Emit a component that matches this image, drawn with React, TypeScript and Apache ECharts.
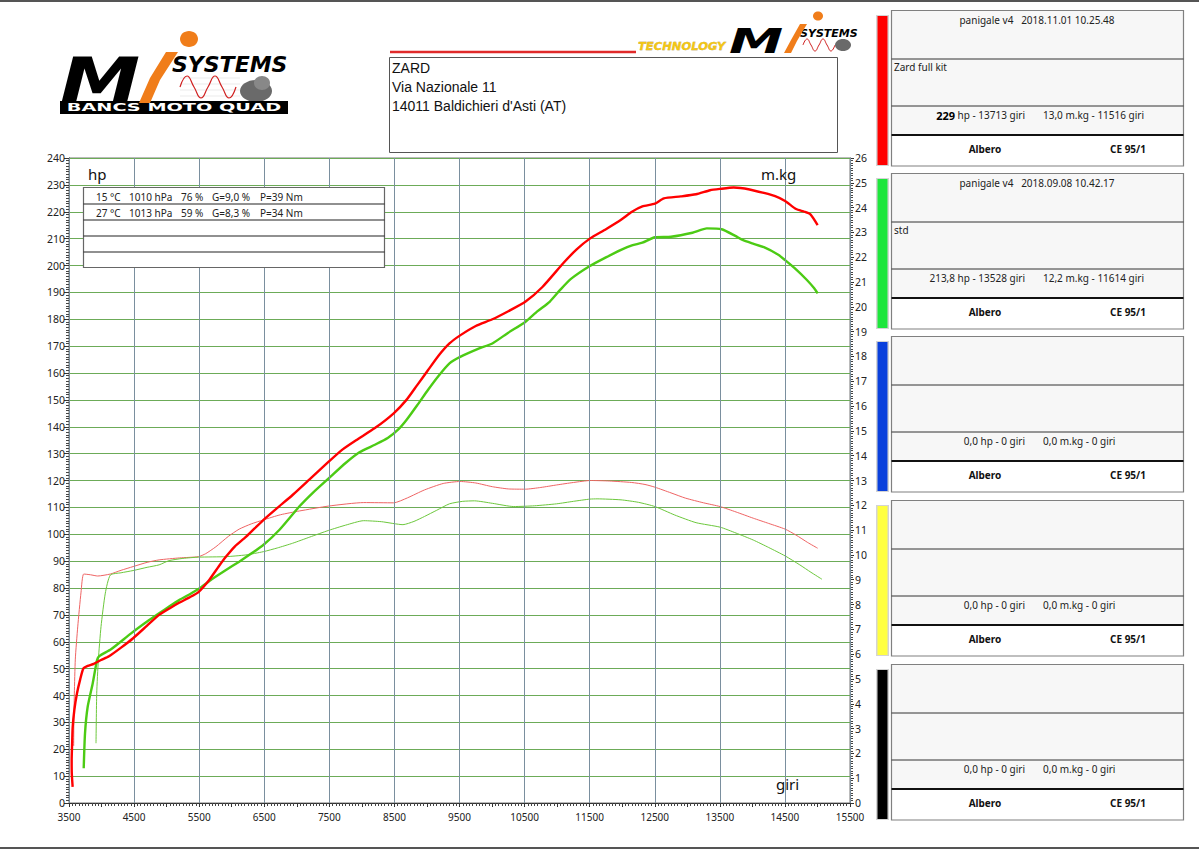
import React, { useEffect, useRef } from 'react';
import * as echarts from 'echarts';

// ---------- DATA ----------
const xLabelValues = [3500, 4500, 5500, 6500, 7500, 8500, 9500, 10500, 11500, 12500, 13500, 14500, 15500];

const redPowerHp: [number, number][] = [
  [3556, 6], [3543, 11], [3541, 16], [3548, 22], [3556, 28], [3582, 34.6], [3623, 40.8], [3672, 46], [3720, 50],
  [3787, 51], [3880, 51.8], [3992, 53.2], [4115, 54.6], [4300, 57.8], [4485, 61.3], [4700, 66], [4885, 70],
  [5050, 72.5], [5192, 74.5], [5350, 76.5], [5489, 78.5], [5654, 83], [5800, 88], [5911, 91.6], [6050, 95.5],
  [6218, 99], [6485, 105.3], [6700, 109.8], [6935, 114.6], [7200, 120.5], [7490, 127], [7700, 131.5], [7911, 135],
  [8200, 139.5], [8489, 145], [8685, 150], [8850, 155.5], [9015, 161], [9180, 166.5], [9346, 171], [9510, 174],
  [9750, 177.5], [10005, 180], [10250, 183], [10511, 186.5], [10774, 192], [11100, 201], [11300, 206], [11503, 210],
  [11750, 213.5], [11982, 217], [12150, 220], [12310, 222], [12503, 223], [12640, 225], [12900, 225.7], [13135, 226.5],
  [13350, 228], [13503, 228.5], [13713, 229], [13958, 228.3], [14177, 227], [14350, 225.8], [14503, 224], [14671, 221],
  [14800, 220], [14892, 219], [15003, 215],
];

const greenPowerHp: [number, number][] = [
  [3726, 12.9], [3746, 25.9], [3787, 35.8], [3864, 44.5], [3931, 53.2], [3967, 54.7], [4146, 57.2], [4454, 63.1],
  [4700, 67.5], [4885, 70.6], [5050, 73.3], [5192, 75.5], [5350, 77.6], [5489, 79.6], [5679, 83], [5900, 86.5],
  [6115, 89.8], [6300, 92.8], [6485, 96], [6731, 101.6], [7038, 110.3], [7250, 115.5], [7490, 120.8], [7750, 126.5],
  [7962, 130.5], [8200, 133.3], [8397, 135.8], [8560, 139], [8685, 142.5], [8850, 148], [9015, 153.7], [9180, 159],
  [9346, 163.6], [9510, 166], [9785, 169], [10005, 171], [10250, 175], [10511, 179], [10700, 183], [10885, 186.5],
  [11050, 191], [11212, 195], [11503, 199.8], [11750, 203], [11982, 205.8], [12150, 207.5], [12310, 208.5],
  [12503, 210.5], [12750, 210.7], [13080, 212.2], [13300, 213.8], [13528, 213.5], [13738, 211], [13849, 209.5],
  [14000, 208.2], [14177, 206.8], [14398, 204], [14503, 202], [14650, 199], [14838, 194.6], [14950, 191.5], [15003, 189.6],
];

const redTorqueMkg: [number, number][] = [
  [3572, 2.3], [3574, 3.1], [3582, 4.4], [3597, 5.8], [3634, 7.1], [3685, 8.5], [3726, 9.23], [3830, 9.2],
  [3941, 9.15], [4135, 9.23], [4300, 9.38], [4485, 9.53], [4700, 9.7], [4885, 9.8], [5200, 9.88], [5489, 9.93],
  [5600, 10.05], [5757, 10.33], [5950, 10.75], [6115, 11.04], [6300, 11.25], [6485, 11.41], [6750, 11.62],
  [7038, 11.77], [7490, 11.97], [8028, 12.11], [8489, 12.1], [8700, 12.3], [8962, 12.62], [9250, 12.88],
  [9510, 12.96], [9750, 12.9], [10005, 12.75], [10250, 12.66], [10511, 12.65], [10750, 12.72], [10992, 12.82],
  [11250, 12.92], [11516, 13.0], [11800, 12.98], [12146, 12.92], [12350, 12.84], [12503, 12.73], [12750, 12.5],
  [12971, 12.29], [13250, 12.1], [13503, 11.95], [13750, 11.73], [14014, 11.48], [14250, 11.27], [14503, 11.04],
  [14671, 10.8], [14850, 10.5], [15003, 10.27],
];

const greenTorqueMkg: [number, number][] = [
  [3915, 2.41], [3926, 4.42], [3951, 5.77], [3992, 7.11], [4058, 8.46], [4135, 9.19], [4300, 9.28], [4485, 9.37],
  [4700, 9.5], [4885, 9.6], [5038, 9.77], [5250, 9.86], [5489, 9.91], [5911, 9.93], [6218, 10.0], [6485, 10.13],
  [6700, 10.28], [6935, 10.47], [7200, 10.72], [7490, 10.99], [7750, 11.2], [8028, 11.38], [8300, 11.34],
  [8631, 11.22], [8800, 11.35], [8962, 11.55], [9150, 11.8], [9346, 12.06], [9550, 12.16], [9731, 12.18],
  [10005, 12.08], [10334, 11.95], [10650, 11.98], [10992, 12.06], [11250, 12.16], [11503, 12.25], [11614, 12.26],
  [11982, 12.22], [12250, 12.12], [12503, 11.95], [12806, 11.61], [13135, 11.3], [13503, 11.12], [13750, 10.88],
  [14014, 10.6], [14250, 10.3], [14503, 9.96], [14728, 9.6], [14900, 9.3], [15069, 9.02],
];

const condTemp = ['15 °C', '27 °C'];
const condPress = ['1010 hPa', '1013 hPa'];
const condHum = ['76 %', '59 %'];
const condG = ['G=9,0 %', 'G=8,3 %'];
const condP = ['P=39 Nm', 'P=34 Nm'];

const addressLines = ['ZARD', 'Via Nazionale 11', "14011 Baldichieri d'Asti (AT)"];

const panelColors = ['#ff0000', '#1ee63c', '#0a40dc', '#ffff40', '#000000'];
const panelTitles = ['panigale v4   2018.11.01 10.25.48', 'panigale v4   2018.09.08 10.42.17', '', '', ''];
const panelNotes = ['Zard full kit', 'std', '', '', ''];
const panelPower = ['{b|229} hp - 13713 giri', '213,8 hp - 13528 giri', '0,0 hp - 0 giri', '0,0 hp - 0 giri', '0,0 hp - 0 giri'];
const panelTorque = ['13,0 m.kg - 11516 giri', '12,2 m.kg - 11614 giri', '0,0 m.kg - 0 giri', '0,0 m.kg - 0 giri', '0,0 m.kg - 0 giri'];
const panelShaft = ['Albero', 'Albero', 'Albero', 'Albero', 'Albero'];
const panelNorm = ['CE 95/1', 'CE 95/1', 'CE 95/1', 'CE 95/1', 'CE 95/1'];

// ---------- LAYOUT ----------
const FONT = 'Noto Sans';
const panelTops = [10, 173, 336, 500, 664];

function buildGraphics(): any[] {
  const g: any[] = [];
  const Z = 100;
  // page rules
  g.push({ type: 'line', z: Z, shape: { x1: 0, y1: 1, x2: 1199, y2: 1 }, style: { stroke: '#555', lineWidth: 2 } });
  g.push({ type: 'line', z: Z, shape: { x1: 0, y1: 848, x2: 1199, y2: 848 }, style: { stroke: '#555', lineWidth: 2 } });

  // ---- left logo ----
  g.push({ type: 'text', z: Z, x: 60, y: 80, scaleX: 1.3, style: { text: 'M', fill: '#000', fontSize: 62, fontWeight: 'bold', fontStyle: 'italic', fontFamily: 'DejaVu Sans', align: 'left', verticalAlign: 'middle' } });
  g.push({ type: 'polygon', z: Z + 1, shape: { points: [[166, 52], [178, 52], [160, 80], [150, 103], [139, 103], [150, 78]] }, style: { fill: '#f07d1a' } });
  g.push({ type: 'ellipse', z: Z + 1, shape: { cx: 189, cy: 39, rx: 9, ry: 8 }, style: { fill: '#f07d1a' } });
  g.push({ type: 'text', z: Z, x: 172, y: 64, style: { text: 'SYSTEMS', fill: '#000', fontSize: 22, fontWeight: 'bold', fontStyle: 'italic', fontFamily: 'DejaVu Sans', align: 'left', verticalAlign: 'middle' } });
  [78, 84, 90, 96].forEach((yy) => g.push({ type: 'line', z: Z, shape: { x1: 180, y1: yy, x2: 240, y2: yy }, style: { stroke: '#ddd', lineWidth: 0.6 } }));
  g.push({ type: 'polyline', z: Z, shape: { smooth: 0.5, points: [[180, 87], [187, 76], [194, 87], [201, 98], [208, 87], [215, 76], [222, 87], [229, 98], [236, 87]] }, style: { stroke: '#d02020', lineWidth: 1.2, fill: 'none' } });
  g.push({ type: 'ellipse', z: Z, shape: { cx: 256, cy: 91, rx: 16, ry: 11 }, style: { fill: '#6a6a6a' } });
  g.push({ type: 'ellipse', z: Z, shape: { cx: 262, cy: 83, rx: 8, ry: 7 }, style: { fill: '#888' } });
  g.push({ type: 'rect', z: Z, shape: { x: 60, y: 101, width: 228, height: 13 }, style: { fill: '#000' } });
  g.push({ type: 'text', z: Z + 1, x: 174, y: 107.5, scaleX: 1.75, style: { text: 'BANCS MOTO QUAD', fill: '#fff', fontSize: 11, fontWeight: 'bold', fontFamily: 'DejaVu Sans', align: 'center', verticalAlign: 'middle' } });

  // ---- top right logo ----
  g.push({ type: 'line', z: Z, shape: { x1: 390, y1: 52, x2: 636, y2: 52 }, style: { stroke: '#e02a2a', lineWidth: 2.5 } });
  g.push({ type: 'text', z: Z, x: 638, y: 46.5, scaleX: 1.05, style: { text: 'TECHNOLOGY', fill: '#f3c614', stroke: '#a88000', lineWidth: 0.3, fontSize: 11, fontWeight: 'bold', fontStyle: 'italic', fontFamily: 'DejaVu Sans', align: 'left', verticalAlign: 'middle' } });
  g.push({ type: 'text', z: Z, x: 729, y: 41, scaleX: 1.6, style: { text: 'M', fill: '#000', fontSize: 34, fontWeight: 'bold', fontStyle: 'italic', fontFamily: 'DejaVu Sans', align: 'left', verticalAlign: 'middle' } });
  g.push({ type: 'polygon', z: Z + 1, shape: { points: [[800, 24], [807, 24], [797, 41], [791, 53], [784, 53], [791, 40]] }, style: { fill: '#f07d1a' } });
  g.push({ type: 'ellipse', z: Z + 1, shape: { cx: 818, cy: 16, rx: 5, ry: 4.5 }, style: { fill: '#f07d1a' } });
  g.push({ type: 'text', z: Z, x: 800, y: 33, style: { text: 'SYSTEMS', fill: '#000', fontSize: 11, fontWeight: 'bold', fontStyle: 'italic', fontFamily: 'DejaVu Sans', align: 'left', verticalAlign: 'middle' } });
  g.push({ type: 'polyline', z: Z, shape: { smooth: 0.5, points: [[803, 45], [807, 39], [811, 45], [815, 51], [819, 45], [823, 39], [827, 45], [831, 51], [835, 45]] }, style: { stroke: '#d02020', lineWidth: 1, fill: 'none' } });
  g.push({ type: 'ellipse', z: Z, shape: { cx: 843, cy: 45, rx: 8, ry: 6 }, style: { fill: '#6a6a6a' } });

  // ---- address box ----
  g.push({ type: 'rect', z: Z, shape: { x: 389.5, y: 57.5, width: 448, height: 95 }, style: { fill: '#fff', stroke: '#555', lineWidth: 1 } });
  addressLines.forEach((t, i) => {
    g.push({ type: 'text', z: Z + 1, x: 392, y: 68 + i * 19, style: { text: t, fill: '#111', fontSize: 14, fontFamily: 'Liberation Sans', align: 'left', verticalAlign: 'middle' } });
  });

  // ---- axis unit labels ----
  g.push({ type: 'text', z: Z, x: 88, y: 174, style: { text: 'hp', fill: '#111', fontSize: 15, fontFamily: FONT, align: 'left', verticalAlign: 'middle' } });
  g.push({ type: 'text', z: Z, x: 761, y: 174, style: { text: 'm.kg', fill: '#111', fontSize: 15, fontFamily: FONT, align: 'left', verticalAlign: 'middle' } });
  g.push({ type: 'text', z: Z, x: 776, y: 784, style: { text: 'giri', fill: '#111', fontSize: 15, fontFamily: FONT, align: 'left', verticalAlign: 'middle' } });

  // ---- condition table ----
  g.push({ type: 'rect', z: Z, shape: { x: 83.5, y: 187.5, width: 301, height: 80 }, style: { fill: '#fff', stroke: '#666', lineWidth: 1.2 } });
  [204, 220, 236, 252].forEach((yy) => g.push({ type: 'line', z: Z + 1, shape: { x1: 83.5, y1: yy, x2: 384.5, y2: yy }, style: { stroke: '#222', lineWidth: 1.2 } }));
  const colX = [96, 129, 181, 212, 260];
  condTemp.forEach((_, r) => {
    const cells = [condTemp[r], condPress[r], condHum[r], condG[r], condP[r]];
    cells.forEach((c, ci) => g.push({ type: 'text', z: Z + 2, x: colX[ci], y: 196.5 + r * 16, style: { text: c, fill: '#222', fontSize: 10, fontFamily: FONT, align: 'left', verticalAlign: 'middle' } }));
  });

  // ---- right panels ----
  panelTops.forEach((T, i) => {
    g.push({ type: 'rect', z: Z, shape: { x: 876, y: T + 5, width: 13, height: 151 }, style: { fill: '#d4d4d4' } });
    g.push({ type: 'rect', z: Z + 1, shape: { x: 877.5, y: T + 6, width: 10, height: 149 }, style: { fill: panelColors[i] } });
    g.push({ type: 'rect', z: Z, shape: { x: 891.5, y: T + 0.5, width: 292, height: 125 }, style: { fill: '#f7f7f7' } });
    g.push({ type: 'rect', z: Z, shape: { x: 891.5, y: T + 125, width: 292, height: 31 }, style: { fill: '#fff' } });
    g.push({ type: 'rect', z: Z + 1, shape: { x: 891.5, y: T + 0.5, width: 292, height: 155.5 }, style: { fill: 'none', stroke: '#808080', lineWidth: 1.2 } });
    g.push({ type: 'line', z: Z + 1, shape: { x1: 891.5, y1: T + 49, x2: 1183.5, y2: T + 49 }, style: { stroke: '#333', lineWidth: 1 } });
    g.push({ type: 'line', z: Z + 1, shape: { x1: 891.5, y1: T + 96, x2: 1183.5, y2: T + 96 }, style: { stroke: '#333', lineWidth: 1 } });
    g.push({ type: 'line', z: Z + 1, shape: { x1: 891.5, y1: T + 125, x2: 1183.5, y2: T + 125 }, style: { stroke: '#111', lineWidth: 2 } });
    if (panelTitles[i]) g.push({ type: 'text', z: Z + 2, x: 1037, y: T + 10, style: { text: panelTitles[i], fill: '#222', fontSize: 10, fontFamily: FONT, align: 'center', verticalAlign: 'middle' } });
    if (panelNotes[i]) g.push({ type: 'text', z: Z + 2, x: 894, y: T + 57, style: { text: panelNotes[i], fill: '#222', fontSize: 10, fontFamily: FONT, align: 'left', verticalAlign: 'middle' } });
    g.push({ type: 'text', z: Z + 2, x: 1025, y: T + 105, style: { text: panelPower[i], fill: '#222', fontSize: 10, fontFamily: FONT, align: 'right', verticalAlign: 'middle', rich: { b: { fontSize: 11, fontWeight: 'bold', fill: '#000', fontFamily: FONT } } } });
    g.push({ type: 'text', z: Z + 2, x: 1043, y: T + 105, style: { text: panelTorque[i], fill: '#222', fontSize: 10, fontFamily: FONT, align: 'left', verticalAlign: 'middle' } });
    g.push({ type: 'text', z: Z + 2, x: 985, y: T + 139, style: { text: panelShaft[i], fill: '#111', fontSize: 10, fontWeight: 'bold', fontFamily: FONT, align: 'center', verticalAlign: 'middle' } });
    g.push({ type: 'text', z: Z + 2, x: 1128, y: T + 139, style: { text: panelNorm[i], fill: '#111', fontSize: 10, fontWeight: 'bold', fontFamily: FONT, align: 'center', verticalAlign: 'middle' } });
  });
  return g;
}

function buildOption(): any {
  const axisLabel = { fontSize: 10, color: '#222', fontFamily: FONT };
  return {
    animation: false,
    backgroundColor: '#fff',
    grid: { left: 69, right: 349, top: 158, bottom: 47, show: true, borderColor: '#777', borderWidth: 1, backgroundColor: 'transparent' },
    xAxis: {
      type: 'value', min: 3500, max: 15500, interval: 500,
      axisLine: { show: true, onZero: false, lineStyle: { color: '#333', width: 1 } },
      axisTick: { show: true, length: 4, lineStyle: { color: '#333' } },
      minorTick: { show: true, splitNumber: 10, length: 3, lineStyle: { color: '#444' } },
      splitLine: { show: false },
      axisLabel: { ...axisLabel, margin: 9, formatter: (v: number) => (xLabelValues.indexOf(v) >= 0 ? String(v) : '') },
    },
    yAxis: [
      {
        type: 'value', min: 0, max: 240, interval: 10, position: 'left',
        axisLine: { show: true, lineStyle: { color: '#333', width: 1 } },
        axisTick: { show: true, length: 5, lineStyle: { color: '#333' } },
        minorTick: { show: true, splitNumber: 10, length: 3, lineStyle: { color: '#444' } },
        splitLine: { show: true, lineStyle: { color: '#6cab58', width: 1 } },
        axisLabel: { ...axisLabel, fontSize: 10.5, margin: 4 },
      },
      {
        type: 'value', min: 0, max: 26, interval: 1, position: 'right',
        axisLine: { show: true, lineStyle: { color: '#333', width: 1 } },
        axisTick: { show: true, length: 4, lineStyle: { color: '#333' } },
        minorTick: { show: true, splitNumber: 10, length: 3, lineStyle: { color: '#444' } },
        splitLine: { show: false },
        axisLabel: { ...axisLabel, fontSize: 10.5, margin: 5 },
      },
    ],
    graphic: { elements: buildGraphics() },
    series: [
      {
        type: 'line', name: 'grid', data: [], z: 1, silent: true,
        markLine: {
          silent: true, symbol: ['none', 'none'], label: { show: false },
          lineStyle: { color: '#7a8f9e', width: 1, type: 'solid' },
          data: xLabelValues.map((v) => ({ xAxis: v })),
        },
      },
      { type: 'line', name: 'hp red', yAxisIndex: 0, data: redPowerHp, showSymbol: false, smooth: 0.2, z: 5, lineStyle: { color: '#ff0000', width: 2.4 }, itemStyle: { color: '#ff0000' } },
      { type: 'line', name: 'hp green', yAxisIndex: 0, data: greenPowerHp, showSymbol: false, smooth: 0.2, z: 4, lineStyle: { color: '#4ccb14', width: 2.4 }, itemStyle: { color: '#4ccb14' } },
      { type: 'line', name: 'mkg red', yAxisIndex: 1, data: redTorqueMkg, showSymbol: false, smooth: 0.2, z: 3, lineStyle: { color: '#ef6464', width: 1 }, itemStyle: { color: '#ef6464' } },
      { type: 'line', name: 'mkg green', yAxisIndex: 1, data: greenTorqueMkg, showSymbol: false, smooth: 0.2, z: 3, lineStyle: { color: '#6cc83c', width: 1 }, itemStyle: { color: '#6cc83c' } },
    ],
  };
}

export default function App() {
  const ref = useRef<HTMLDivElement>(null);
  useEffect(() => {
    if (!ref.current) return;
    const chart = echarts.init(ref.current, null, { renderer: 'svg' });
    chart.setOption(buildOption());
    return () => chart.dispose();
  }, []);
  return <div ref={ref} style={{ position: 'fixed', left: 0, top: 0, width: 1199, height: 850, background: '#fff' }} />;
}
